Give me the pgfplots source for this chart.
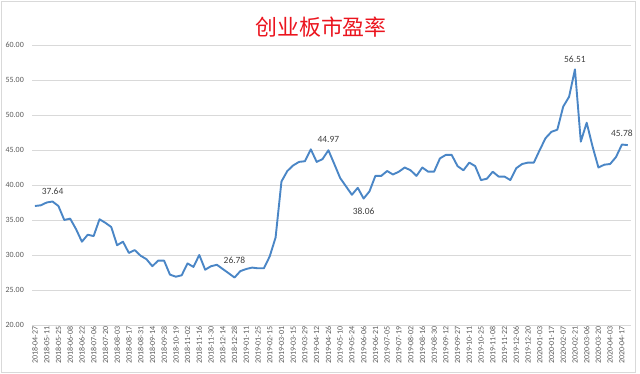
\documentclass[border=0pt]{standalone}
\usepackage{fontspec}
\usepackage{pgfplots}
\pgfplotsset{compat=1.18}
\setmainfont{Carlito}
\newfontfamily\cjk{Noto Sans CJK SC}
\definecolor{linec}{RGB}{74,134,198}
\definecolor{gridc}{RGB}{217,217,217}
\definecolor{tickc}{RGB}{89,89,89}
\definecolor{labc}{RGB}{64,64,64}
\definecolor{titlec}{RGB}{235,20,30}
\begin{document}
\begin{tikzpicture}
\path[use as bounding box] (0bp,0bp) rectangle (640bp,374bp);
\draw[gray!30, line width=0.8bp] (1bp,2bp) rectangle (635bp,373bp);
\node[font=\cjk\fontsize{22}{24}\selectfont, text=titlec] at (321bp,347bp) {创业板市盈率};
\begin{axis}[
  at={(32bp,49bp)}, anchor=south west,
  scale only axis, width=598.7bp, height=280bp,
  xmin=-0.5, xmax=101.5, ymin=20, ymax=60,
  ytick={20,25,...,60},
  xtick={0,2,...,100},
  xticklabels={2018-04-27,2018-05-11,2018-05-25,2018-06-08,2018-06-22,2018-07-06,2018-07-20,2018-08-03,2018-08-17,2018-08-31,2018-09-14,2018-09-28,2018-10-19,2018-11-02,2018-11-16,2018-11-30,2018-12-14,2018-12-28,2019-01-11,2019-01-25,2019-02-15,2019-03-01,2019-03-15,2019-03-29,2019-04-12,2019-04-26,2019-05-10,2019-05-24,2019-06-06,2019-06-21,2019-07-05,2019-07-19,2019-08-02,2019-08-16,2019-08-30,2019-09-12,2019-09-27,2019-10-11,2019-10-25,2019-11-08,2019-11-22,2019-12-06,2019-12-20,2020-01-03,2020-01-17,2020-02-07,2020-02-21,2020-03-06,2020-03-20,2020-04-03,2020-04-17},
  axis line style={draw=none},
  major tick length=0pt,
  ymajorgrids, grid style={gridc, line width=0.9bp},
  /pgf/number format/assume math mode=true,
  yticklabel style={/pgf/number format/fixed, /pgf/number format/fixed zerofill, /pgf/number format/precision=2, font=\fontsize{8}{9}\selectfont, text=tickc, inner sep=0pt, anchor=east, xshift=-8bp},
  xticklabel style={rotate=90, anchor=east, font=\fontsize{8}{9}\selectfont, text=tickc, inner sep=1.5bp},
  clip=false,
]
\addplot[linec, line width=1.9bp, line join=round] coordinates {
(0,37.0)(1,37.1)(2,37.5)(3,37.64)(4,37.0)(5,35.0)(6,35.2)(7,33.7)(8,31.9)(9,32.9)
(10,32.7)(11,35.1)(12,34.6)(13,34.0)(14,31.4)(15,31.9)(16,30.3)(17,30.7)(18,29.9)(19,29.4)
(20,28.4)(21,29.2)(22,29.2)(23,27.2)(24,26.9)(25,27.1)(26,28.8)(27,28.3)(28,30.0)(29,27.9)
(30,28.4)(31,28.6)(32,28.0)(33,27.4)(34,26.78)(35,27.7)(36,28.0)(37,28.2)(38,28.1)(39,28.1)
(40,29.8)(41,32.5)(42,40.5)(43,42.0)(44,42.8)(45,43.3)(46,43.4)(47,45.1)(48,43.3)(49,43.7)
(50,44.97)(51,43.0)(52,41.0)(53,39.8)(54,38.6)(55,39.6)(56,38.06)(57,39.1)(58,41.3)(59,41.3)
(60,42.0)(61,41.5)(62,41.9)(63,42.5)(64,42.1)(65,41.3)(66,42.5)(67,41.9)(68,41.9)(69,43.8)
(70,44.3)(71,44.3)(72,42.7)(73,42.1)(74,43.2)(75,42.7)(76,40.7)(77,40.9)(78,41.9)(79,41.2)
(80,41.2)(81,40.7)(82,42.4)(83,43.0)(84,43.2)(85,43.2)(86,45.0)(87,46.7)(88,47.6)(89,47.9)
(90,51.2)(91,52.6)(92,56.51)(93,46.2)(94,48.9)(95,45.5)(96,42.5)(97,42.9)(98,43.0)(99,44.0)
(100,45.78)(101,45.7)
};
\pgfplotsset{lbl/.style={draw=none, mark=none, nodes near coords, point meta=explicit symbolic,
  every node near coord/.append style={font=\fontsize{9.5}{11}\selectfont, text=labc, anchor=center, inner sep=0pt}}}
\addplot[lbl, every node near coord/.append style={yshift=10bp}] coordinates {(3,37.64)[37.64]};
\addplot[lbl, every node near coord/.append style={yshift=17bp}] coordinates {(34,26.78)[26.78]};
\addplot[lbl, every node near coord/.append style={yshift=11bp}] coordinates {(50,44.97)[44.97]};
\addplot[lbl, every node near coord/.append style={yshift=-13bp}] coordinates {(56,38.06)[38.06]};
\addplot[lbl, every node near coord/.append style={yshift=10bp}] coordinates {(92,56.51)[56.51]};
\addplot[lbl, every node near coord/.append style={yshift=11bp}] coordinates {(100,45.78)[45.78]};
\end{axis}
\end{tikzpicture}
\end{document}
